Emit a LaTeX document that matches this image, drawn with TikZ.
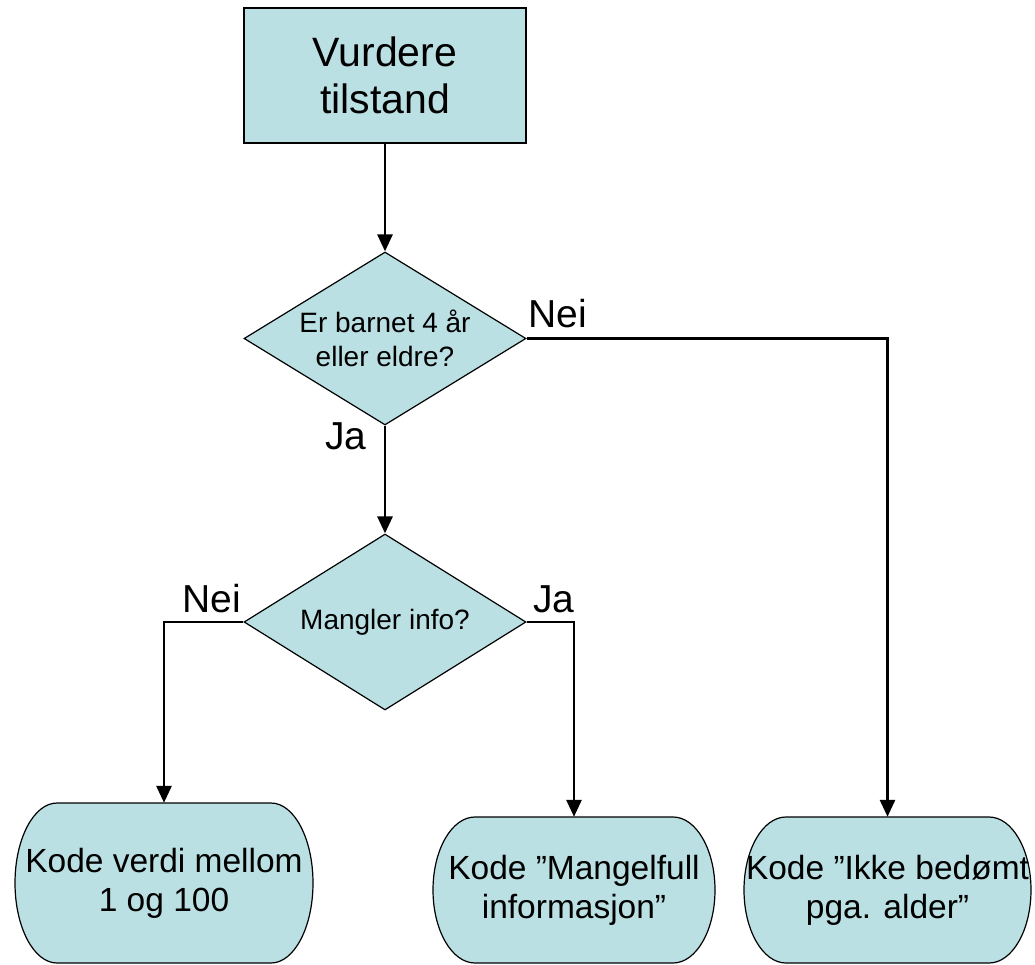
\documentclass[tikz,border=0pt]{standalone}
\usepackage{fontspec}
\setmainfont{Liberation Sans}
\usetikzlibrary{arrows.meta,shapes.geometric}
\definecolor{boxfill}{RGB}{186,224,227}

\tikzset{
  outline/.style={draw=black,line width=1.2pt,fill=boxfill},
  procbox/.style={outline,rectangle,minimum width=282pt,minimum height=135pt,
    inner sep=0pt,align=center,font=\fontsize{41}{47}\selectfont},
  decision/.style={outline,diamond,aspect=1.63,inner sep=0pt,align=center,
    font=\fontsize{28}{34}\selectfont},
  kodetext/.style={rectangle,inner sep=0pt,align=center,
    font=\fontsize{33.5}{39}\selectfont},
  flow/.style={line width=2.8pt,-{Triangle[length=17pt,width=15pt]}},
  branch/.style={anchor=base west,inner sep=0pt,font=\fontsize{39}{41}\selectfont},
}

% terminal box: flat top and bottom, elliptic sides
% #1 left, #2 top, #3 right, #4 bottom (distances from the top-left corner), #5 name, #6 text
\newcommand\kodebox[6]{%
  \draw[outline] (#1+42,-#2) -- (#3-42,-#2)
    arc[start angle=90,end angle=0,x radius=42,y radius={(#4-#2)/2}]
    arc[start angle=0,end angle=-90,x radius=42,y radius={(#4-#2)/2}]
    -- (#1+42,-#4)
    arc[start angle=270,end angle=180,x radius=42,y radius={(#4-#2)/2}]
    arc[start angle=180,end angle=90,x radius=42,y radius={(#4-#2)/2}]
    -- cycle;
  \node[kodetext,minimum width={(#3-#1)*1pt},minimum height={(#4-#2)*1pt}]
    (#5) at ({(#1+#3)/2},{-(#2+#4)/2}) {#6};
}

\begin{document}
\begin{tikzpicture}[x=1pt,y=1pt]
\useasboundingbox (0,0) rectangle (1035,-965);

\node[procbox] (start) at (385,-75.5) {Vurdere\\tilstand};

\node[decision,minimum width=282pt,minimum height=173pt] (age) at (385,-338.5)
  {Er barnet 4 år\\eller eldre?};
\node[decision,minimum width=282pt,minimum height=176pt] (info) at (385,-622)
  {Mangler info?};

\kodebox{15}{803}{313}{963}{verdi}{Kode verdi mellom\\1 og 100}
\kodebox{433}{817}{715}{963}{mangel}{Kode ”Mangelfull\\informasjon”}
\kodebox{744}{817}{1031}{963}{alder}{Kode ”Ikke bedømt\\pga. alder”}

\draw[flow] (start.south) -- (age.north);
\draw[flow] (age.south) -- (info.north);
\draw[flow] (age.east) -| (alder.north);
\draw[flow] (info.west) -| (verdi.north);
\draw[flow] (info.east) -| (mangel.north);

\node[branch] (neiA) at (528,-327) {Nei};
\node[branch] (jaA) at (325,-449) {Ja};
\node[branch] (neiB) at (182,-612) {Nei};
\node[branch] (jaB) at (533,-612) {Ja};
\end{tikzpicture}
\end{document}
